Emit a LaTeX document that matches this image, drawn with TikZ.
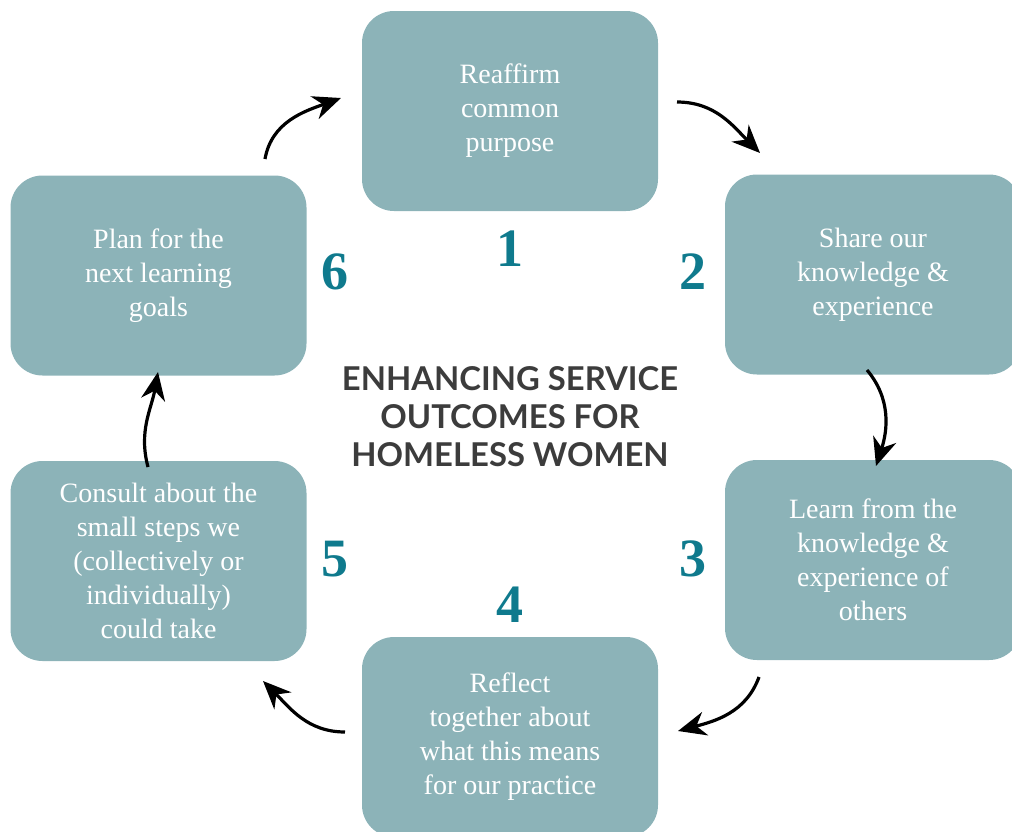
\documentclass[tikz,border=0pt]{standalone}
\usepackage{fontspec}
\setmainfont{Liberation Serif}
\newfontfamily\titlefont{Lato}
\usetikzlibrary{arrows.meta}
\definecolor{boxteal}{HTML}{8CB3B8}
\definecolor{numteal}{HTML}{0F7A8D}
\definecolor{titlegray}{HTML}{3C3C3C}
\begin{document}
\begin{tikzpicture}[x=0.5pt,y=0.5pt,
  stage/.style={fill=boxteal,rounded corners=16pt,minimum width=148pt,minimum height=100pt,inner sep=0pt,text=white,align=center,font=\fontsize{14}{17}\selectfont},
  stepnum/.style={text=numteal,font=\fontsize{27}{27}\selectfont\bfseries},
  cyc/.style={-{Stealth[length=14pt,width=12pt,inset=4.5pt]},line width=1.6pt}]
\useasboundingbox (0,0) rectangle (1012,-831);
\clip (0,0) rectangle (1012,-831);
\node [stage] (s1) at (510,-111) {Reaffirm\\common\\purpose};
\node [stage] (s2) at (873,-274.5) {Share our\\knowledge \&\\experience};
\node [stage] (s3) at (873,-560) {Learn from the\\knowledge \&\\experience of\\others};
\node [stage] (s4) at (510,-737) {Reflect\\together about\\what this means\\for our practice};
\node [stage] (s5) at (158.5,-561) {Consult about the\\small steps we\\(collectively or\\individually)\\could take};
\node [stage] (s6) at (158.5,-275.5) {Plan for the\\next learning\\goals};
\node [stepnum] (n1) at (510,-249) {1};
\node [stepnum] (n2) at (693,-272) {2};
\node [stepnum] (n3) at (693,-559) {3};
\node [stepnum] (n4) at (510,-605) {4};
\node [stepnum] (n5) at (335,-559) {5};
\node [stepnum] (n6) at (335,-272) {6};
\node [text=titlegray,align=center,font=\titlefont\bfseries\fontsize{16.4}{19}\selectfont] (title) at (510,-417) {ENHANCING SERVICE\\OUTCOMES FOR\\HOMELESS WOMEN};
\coordinate (a1) at (677,-102);
\coordinate (b1) at (760,-153);
\coordinate (a2) at (867,-370);
\coordinate (b2) at (876,-466);
\coordinate (a3) at (759,-677);
\coordinate (b3) at (678,-731);
\coordinate (a4) at (345,-732);
\coordinate (b4) at (263,-681);
\coordinate (a5) at (148,-467);
\coordinate (b5) at (158,-372);
\coordinate (a6) at (265,-159);
\coordinate (b6) at (341,-98);
\draw [cyc] (a1) to[out=0,in=135] (b1);
\draw [cyc] (a2) to[out=-50,in=72] (b2);
\draw [cyc] (a3) to[out=-110,in=15] (b3);
\draw [cyc] (a4) to[out=180,in=-45] (b4);
\draw [cyc] (a5) to[out=105,in=-100] (b5);
\draw [cyc] (a6) to[out=80,in=200] (b6);
\end{tikzpicture}
\end{document}
